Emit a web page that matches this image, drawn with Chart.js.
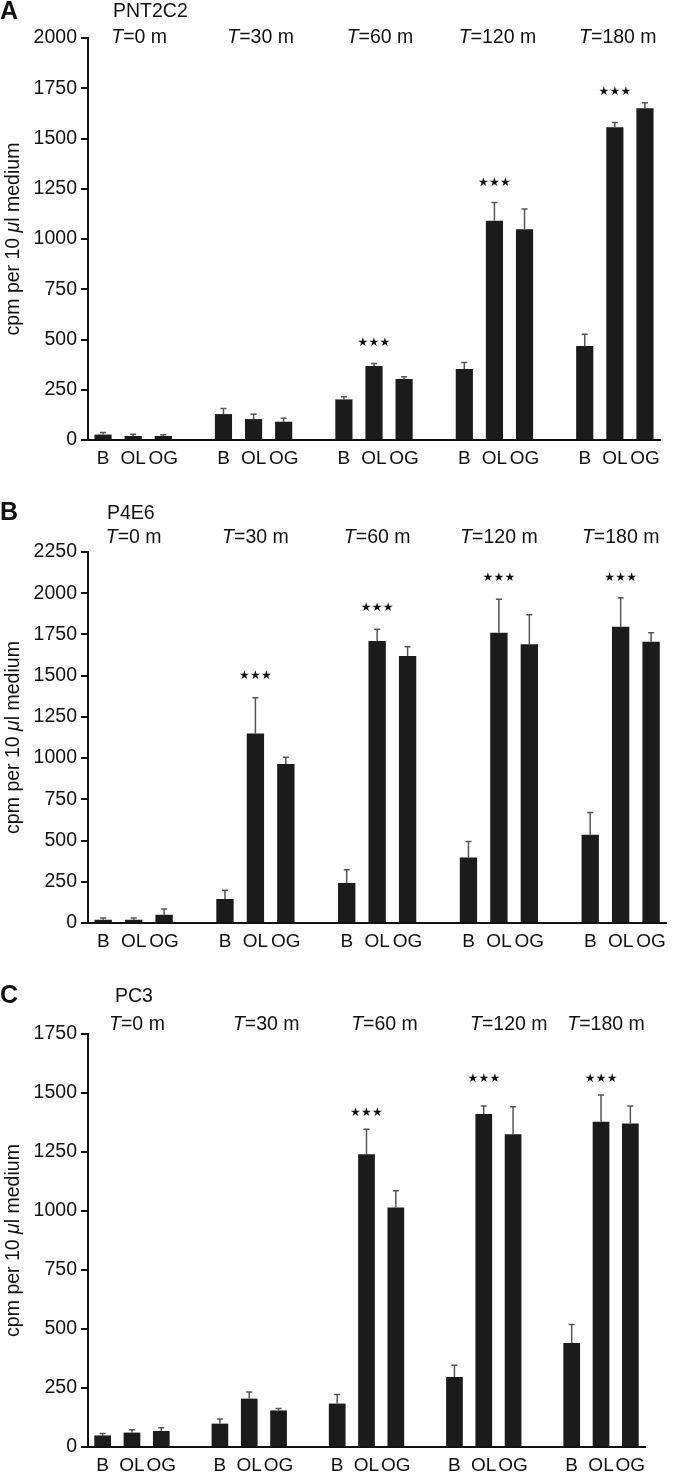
<!DOCTYPE html>
<html>
<head>
<meta charset="utf-8">
<title>Uptake per cell line</title>
<script src="https://cdn.jsdelivr.net/npm/chart.js@4.4.1/dist/chart.umd.min.js"></script>
<style>
  body { margin: 0; background: #fff; }
  canvas { display: block; }
</style>
</head>
<body>
<canvas id="panelA" width="673" height="470"></canvas>
<canvas id="panelB" width="673" height="490"></canvas>
<canvas id="panelC" width="673" height="517"></canvas>
<script>
const conditions = ["B", "OL", "OG"];
const timePoints = ["0", "30", "60", "120", "180"];

// PNT2C2 (cpm per 10 ul medium), order B/OL/OG per time point
const pnt2c2Means  = [27, 20, 20, 129, 104, 91, 202, 368, 303, 353, 1091, 1048, 468, 1556, 1650];
const pnt2c2Errors = [10, 8, 6, 28, 24, 17, 13, 13, 12, 33, 91, 101, 58, 23, 28];
const pnt2c2StarGroups = [2, 3, 4];
const pnt2c2StarLevels = [483, 1279, 1731];
const pnt2c2Ticks = [0, 250, 500, 750, 1000, 1250, 1500, 1750, 2000];

// P4E6
const p4e6Means  = [20, 20, 50, 145, 1150, 965, 242, 1711, 1620, 397, 1760, 1691, 535, 1796, 1705];
const p4e6Errors = [10, 10, 35, 53, 216, 40, 81, 71, 55, 97, 203, 179, 135, 177, 55];
const p4e6StarGroups = [1, 2, 3, 4];
const p4e6StarLevels = [1499, 1910, 2092, 2092];
const p4e6Ticks = [0, 250, 500, 750, 1000, 1250, 1500, 1750, 2000, 2250];

// PC3
const pc3Means  = [49, 61, 68, 99, 205, 155, 184, 1240, 1015, 297, 1411, 1325, 441, 1378, 1371];
const pc3Errors = [8, 12, 14, 20, 28, 8, 38, 106, 71, 49, 34, 117, 78, 113, 74];
const pc3StarGroups = [2, 3, 4];
const pc3StarLevels = [1416, 1559, 1559];
const pc3Ticks = [0, 250, 500, 750, 1000, 1250, 1500, 1750];

const FONT = "'Liberation Sans', Arial, Helvetica, sans-serif";
const SIZE = 19.5;
const INK = "#111";

// insert an empty slot between time points so the groups stand apart
function withGaps(arr, gapValue) {
    const out = [];
    arr.forEach((v, i) => {
        out.push(v);
        if (i % 3 === 2 && i < arr.length - 1) out.push(gapValue);
    });
    return out;
}

function makePanel(canvasId, p) {
    const labels = withGaps(timePoints.flatMap(() => conditions), "");
    const means = withGaps(p.means, null);
    const errors = withGaps(p.errors, null);

    const annotations = {
        id: "annotations",
        afterDatasetsDraw(chart) {
            const ctx = chart.ctx;
            const y = chart.scales.y;
            const bars = chart.getDatasetMeta(0).data;
            const area = chart.chartArea;
            ctx.save();

            // error bars (upper only)
            ctx.strokeStyle = "#555";
            ctx.lineWidth = 1.5;
            means.forEach((m, i) => {
                if (m === null) return;
                const x = bars[i].x;
                const yTop = y.getPixelForValue(m);
                const yErr = y.getPixelForValue(m + errors[i]);
                ctx.beginPath();
                ctx.moveTo(x, yTop);
                ctx.lineTo(x, yErr);
                ctx.moveTo(x - 3, yErr);
                ctx.lineTo(x + 3, yErr);
                ctx.stroke();
            });

            // significance stars above OL
            ctx.fillStyle = INK;
            ctx.font = "12px 'DejaVu Sans'";
            ctx.textAlign = "center";
            ctx.textBaseline = "middle";
            p.starGroups.forEach((g, k) => {
                const x = bars[g * 4 + 1].x;
                const sy = y.getPixelForValue(p.starLevels[k]);
                [-11, 0, 11].forEach(dx => ctx.fillText("\u2605", x + dx, sy));
            });

            // time point headers
            ctx.textBaseline = "middle";
            timePoints.forEach((t, g) => {
                const cx = bars[g * 4 + 1].x + p.labelShift[g];
                const cy = area.top + p.timeOffset;
                ctx.font = "italic " + SIZE + "px " + FONT;
                const wT = ctx.measureText("T").width;
                ctx.font = SIZE + "px " + FONT;
                const rest = "=" + t + " m";
                const wR = ctx.measureText(rest).width;
                const x0 = cx - (wT + wR) / 2;
                ctx.textAlign = "left";
                ctx.font = "italic " + SIZE + "px " + FONT;
                ctx.fillText("T", x0, cy);
                ctx.font = SIZE + "px " + FONT;
                ctx.fillText(rest, x0 + wT, cy);
            });

            // cell line name and panel letter
            ctx.textAlign = "left";
            ctx.font = SIZE + "px " + FONT;
            ctx.fillText(p.cellLine, p.cellLineX, p.cellLineY);
            ctx.font = "bold 25px " + FONT;
            ctx.textBaseline = "top";
            ctx.fillText(p.letter, 0, p.letterY);

            // y axis title with italic mu
            const parts = [["cpm per 10 ", ""], ["\u03bc", "italic "], ["l medium", ""]];
            let total = 0;
            parts.forEach(([s, st]) => { ctx.font = st + SIZE + "px " + FONT; total += ctx.measureText(s).width; });
            ctx.translate(14, (area.top + area.bottom) / 2);
            ctx.rotate(-Math.PI / 2);
            ctx.textBaseline = "middle";
            let px = -total / 2;
            parts.forEach(([s, st]) => {
                ctx.font = st + SIZE + "px " + FONT;
                ctx.fillText(s, px, 0);
                px += ctx.measureText(s).width;
            });
            ctx.restore();
        }
    };

    new Chart(document.getElementById(canvasId), {
        type: "bar",
        data: {
            labels: labels,
            datasets: [{
                data: means,
                backgroundColor: "#1b1b1b",
                borderWidth: 0,
                barPercentage: 0.57,
                categoryPercentage: 1.0
            }]
        },
        options: {
            responsive: false,
            animation: false,
            layout: { padding: { left: 0, right: p.padRight, top: p.padTop, bottom: p.padBottom } },
            plugins: { legend: { display: false }, tooltip: { enabled: false } },
            scales: {
                x: {
                    grid: { display: false, drawTicks: false },
                    border: { display: true, color: INK, width: 2 },
                    ticks: { autoSkip: false, maxRotation: 0, padding: 7, color: INK, font: { family: FONT, size: 19 } },
                    afterFit: s => { s.height = 30; }
                },
                y: {
                    min: 0,
                    max: p.ticks[p.ticks.length - 1],
                    afterBuildTicks: s => { s.ticks = p.ticks.map(v => ({ value: v })); },
                    ticks: { padding: 4, color: INK, font: { family: FONT, size: SIZE }, callback: v => String(v) },
                    grid: { drawOnChartArea: false, drawTicks: true, tickLength: 7, color: INK, lineWidth: 2 },
                    border: { display: true, color: INK, width: 2 },
                    afterFit: s => { s.width = 88; }
                }
            }
        },
        plugins: [annotations]
    });
}

makePanel("panelA", {
    letter: "A", letterY: 0, cellLine: "PNT2C2", cellLineX: 113, cellLineY: 12,
    means: pnt2c2Means, errors: pnt2c2Errors, starGroups: pnt2c2StarGroups, starLevels: pnt2c2StarLevels,
    ticks: pnt2c2Ticks, padTop: 38, padBottom: 0, padRight: 13,
    timeOffset: 0, labelShift: [6, 7, 6, 3, 3]
});

makePanel("panelB", {
    letter: "B", letterY: 31, cellLine: "P4E6", cellLineX: 107, cellLineY: 44,
    means: p4e6Means, errors: p4e6Errors, starGroups: p4e6StarGroups, starLevels: p4e6StarLevels,
    ticks: p4e6Ticks, padTop: 82, padBottom: 7, padRight: 5,
    timeOffset: -14, labelShift: [0, 0, 0, 0, 0]
});

makePanel("panelC", {
    letter: "C", letterY: 24, cellLine: "PC3", cellLineX: 115, cellLineY: 37,
    means: pc3Means, errors: pc3Errors, starGroups: pc3StarGroups, starLevels: pc3StarLevels,
    ticks: pc3Ticks, padTop: 74, padBottom: 0, padRight: 28,
    timeOffset: -9, labelShift: [5, 17, 18, 25, 5]
});
</script>
</body>
</html>
